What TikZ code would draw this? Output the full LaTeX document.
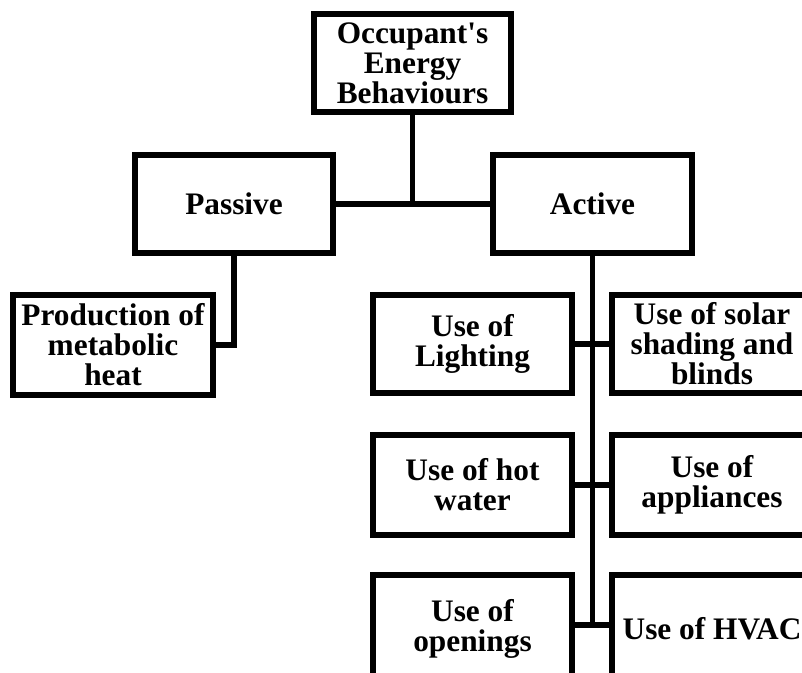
\documentclass[tikz,border=0pt]{standalone}
\usepackage{fontspec}
\setmainfont{Liberation Serif}
\begin{document}
\begin{tikzpicture}[x=0.75pt,y=-0.75pt,
  box/.style={draw=black,line width=4.1pt,rectangle,align=center,inner sep=1pt,
    minimum width=148.5pt,minimum height=73.5pt,
    font=\fontsize{23.5pt}{22.5pt}\selectfont\bfseries},
  link/.style={draw=black,line width=4.1pt}]
\useasboundingbox (0,0) rectangle (802,672);
\clip (0,0) rectangle (802,672);
\node[box,minimum width=147.75pt] (top) at (412.5,63) {Occupant\textquotesingle s\\Energy\\Behaviours};
\node[box] (passive) at (234,204) {Passive};
\node[box,minimum width=149.25pt] (active) at (592.5,204) {Active};
\node[box,minimum width=150pt,minimum height=75pt] (prod) at (113,345) {Production of\\metabolic\\heat};
\node[box,minimum width=149.25pt] (light) at (472.5,344) {Use of\\Lighting};
\node[box,minimum width=150pt] (solar) at (712,344) {Use of solar\\shading and\\blinds};
\node[box,minimum width=149.25pt,minimum height=75pt] (hot) at (472.5,485) {Use of hot\\water};
\node[box,minimum width=150pt,minimum height=75pt] (appl) at (712,485) {Use of\\appliances};
\node[box,minimum width=149.25pt,minimum height=81pt] (open) at (472.5,629) {Use of\\openings};
\node[box,minimum width=150pt,minimum height=81pt] (hvac) at (712,629) {Use of HVAC};
\draw[link] (top.south) -- (top.south |- passive.east);
\draw[link] (passive.east) -- (active.west);
\draw[link] (passive.south) |- (prod.east);
\draw[link] (active.south) -- ([yshift=3pt]active.south |- hvac.west);
\draw[link] (light.east) -- (solar.west);
\draw[link] (hot.east) -- (appl.west);
\draw[link] ([yshift=3pt]open.east) -- ([yshift=3pt]hvac.west);
\end{tikzpicture}
\end{document}
